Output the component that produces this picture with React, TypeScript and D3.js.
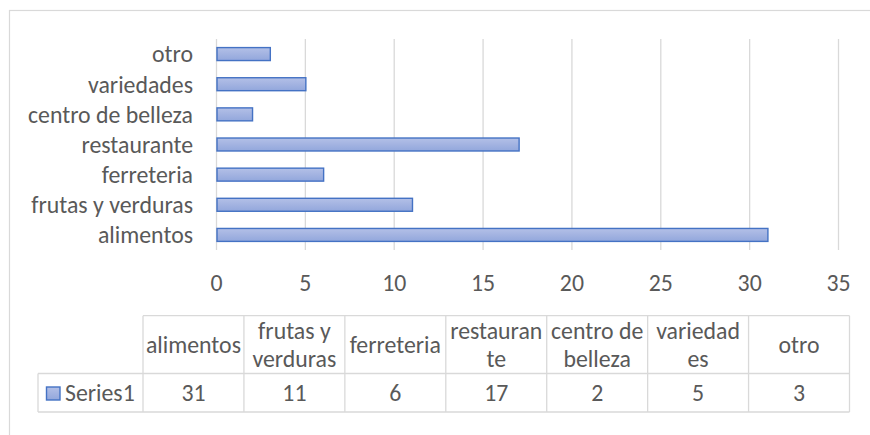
import React from 'react';
import * as d3 from 'd3';

// chart data, bottom to top as Excel draws it
const categories = ['alimentos', 'frutas y verduras', 'ferreteria', 'restaurante', 'centro de belleza', 'variedades', 'otro'];
const values = [31, 11, 6, 17, 2, 5, 3];
const seriesName = 'Series1';
const xTicks = [0, 5, 10, 15, 20, 25, 30, 35];
// data table header text, wrapped as in the picture
const tableHeaders = [['alimentos'], ['frutas y', 'verduras'], ['ferreteria'], ['restauran', 'te'], ['centro de', 'belleza'], ['variedad', 'es'], ['otro']];

const FONT = 'Carlito, Lato, sans-serif';
const TEXT = '#595959';
const GRID = '#d9d9d9';

export default function App() {
  const width = 870;
  const height = 435;
  const plot = { left: 216.5, right: 838.5, top: 39, bottom: 250 };

  const xScale = d3.scaleLinear().domain([0, 35]).range([plot.left, plot.right]);
  const yScale = d3.scaleBand<string>()
    .domain([...categories].reverse())
    .range([plot.top, plot.bottom])
    .paddingInner(0.57)
    .paddingOuter(0.285);

  const colScale = d3.scaleBand<string>().domain(categories).range([143, 849.5]);
  const tableTop = 315.7;
  const headerBottom = 373.5;
  const tableBottom = 412;
  const legendLeft = 38;
  const fs = 23.8;

  return (
    <svg width={width} height={height} style={{ display: 'block', position: 'absolute', left: 0, top: 0 }}>
      <defs>
        <linearGradient id="barFill" x1="0" y1="0" x2="0" y2="1">
          <stop offset="0" stopColor="#b3c0e7" />
          <stop offset="0.5" stopColor="#a3b3e1" />
          <stop offset="1" stopColor="#92a7dc" />
        </linearGradient>
      </defs>
      <rect x={0} y={0} width={width} height={height} fill="#fff" />
      <rect x={9.5} y={10.5} width={width + 20} height={height + 20} fill="none" stroke={GRID} strokeWidth={1.2} />

      {/* gridlines */}
      {xTicks.map(t => (
        <line key={t} x1={xScale(t)} x2={xScale(t)} y1={plot.top} y2={plot.bottom} stroke={GRID} strokeWidth={1.3} />
      ))}

      {/* bars */}
      {categories.map((c, i) => (
        <rect key={c} x={xScale(0) + 0.5} y={yScale(c)} width={xScale(values[i]) - xScale(0)} height={yScale.bandwidth()}
          fill="url(#barFill)" stroke="#4472c4" strokeWidth={1.4} />
      ))}

      {/* category labels */}
      {categories.map(c => (
        <text key={c} x={193} y={(yScale(c) ?? 0) + yScale.bandwidth() / 2} dy="0.35em" textAnchor="end"
          fontFamily={FONT} fontSize={fs} fill={TEXT}>{c}</text>
      ))}

      {/* tick labels */}
      {xTicks.map(t => (
        <text key={t} x={xScale(t)} y={282.5} dy="0.35em" textAnchor="middle" fontFamily={FONT} fontSize={fs} fill={TEXT}>{t}</text>
      ))}

      {/* data table */}
      <g fill="none" stroke={GRID} strokeWidth={1.3}>
        <line x1={143} x2={849.5} y1={tableTop} y2={tableTop} />
        <line x1={legendLeft} x2={849.5} y1={headerBottom} y2={headerBottom} />
        <line x1={legendLeft} x2={849.5} y1={tableBottom} y2={tableBottom} />
        <line x1={legendLeft} x2={legendLeft} y1={headerBottom} y2={tableBottom} />
        {categories.map(c => (
          <line key={c} x1={colScale(c)} x2={colScale(c)} y1={tableTop} y2={tableBottom} />
        ))}
        <line x1={849.5} x2={849.5} y1={tableTop} y2={tableBottom} />
      </g>
      {categories.map((c, i) => {
        const cx = (colScale(c) ?? 0) + colScale.bandwidth() / 2;
        const lines = tableHeaders[i];
        const mid = (tableTop + headerBottom) / 2;
        const lh = 28;
        return (
          <g key={c}>
            {lines.map((l, j) => (
              <text key={j} x={cx} y={mid + (j - (lines.length - 1) / 2) * lh} dy="0.35em" textAnchor="middle"
                fontFamily={FONT} fontSize={fs} fill={TEXT}>{l}</text>
            ))}
            <text x={cx} y={(headerBottom + tableBottom) / 2} dy="0.35em" textAnchor="middle"
              fontFamily={FONT} fontSize={fs} fill={TEXT}>{values[i]}</text>
          </g>
        );
      })}

      {/* legend key */}
      <rect x={46.5} y={387} width={13.5} height={13} fill="url(#barFill)" stroke="#4472c4" strokeWidth={1.4} />
      <text x={65} y={(headerBottom + tableBottom) / 2} dy="0.35em" fontFamily={FONT} fontSize={fs} fill={TEXT}>{seriesName}</text>
    </svg>
  );
}
